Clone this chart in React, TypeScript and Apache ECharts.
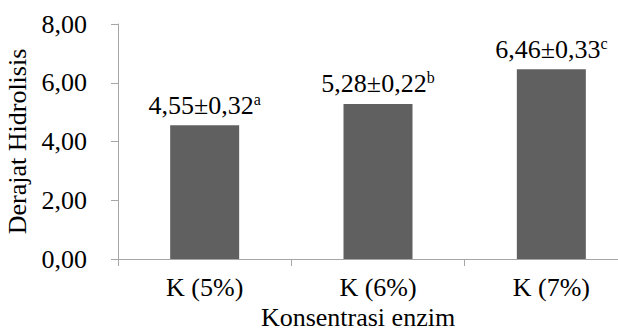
import React, { useEffect, useRef } from "react";
import * as echarts from "echarts";

const categories = ["K (5%)", "K (6%)", "K (7%)"];
const values = [4.55, 5.28, 6.46];
const labelTexts = ["4,55±0,32", "5,28±0,22", "6,46±0,33"];
const labelLetters = ["a", "b", "c"];
const yTicks = [0, 2, 4, 6, 8];

const FONT = "Liberation Serif";

export default function App() {
  const ref = useRef<HTMLDivElement>(null);
  useEffect(() => {
    if (!ref.current) return;
    const chart = echarts.init(ref.current, null, { renderer: "svg" });
    chart.setOption({
      animation: false,
      backgroundColor: "#ffffff",
      textStyle: { fontFamily: FONT },
      grid: { left: 118, right: 2, top: 24, bottom: 70, containLabel: false, outerBoundsMode: "none" },
      xAxis: {
        type: "category",
        data: categories,
        name: "Konsentrasi enzim",
        nameLocation: "middle",
        nameGap: 31,
        nameTextStyle: { fontFamily: FONT, fontSize: 26, color: "#000", padding: [0, 40, 0, 0], lineHeight: 24 },
        axisLine: { lineStyle: { color: "#a6a6a6", width: 1 } },
        axisTick: { show: true, length: 7, lineStyle: { color: "#a6a6a6" } },
        axisLabel: { fontFamily: FONT, fontSize: 26, color: "#000", margin: 15 },
      },
      yAxis: {
        type: "value",
        min: 0,
        max: yTicks[yTicks.length - 1],
        interval: 2,
        name: "Derajat Hidrolisis",
        nameLocation: "middle",
        nameGap: 82,
        nameTextStyle: { fontFamily: FONT, fontSize: 26, color: "#000" },
        axisLine: { show: true, lineStyle: { color: "#a6a6a6", width: 1 } },
        axisTick: { show: true, length: 7, lineStyle: { color: "#a6a6a6" } },
        splitLine: { show: false },
        axisLabel: {
          fontFamily: FONT,
          fontSize: 26,
          color: "#000",
          margin: 31,
          formatter: (v: number) => v.toFixed(2).replace(".", ","),
        },
      },
      series: [
        {
          type: "bar",
          data: values,
          barWidth: 69,
          itemStyle: { color: "#606060" },
          label: {
            show: true,
            position: "top",
            distance: 6,
            fontFamily: FONT,
            formatter: (p: any) => `{v|${labelTexts[p.dataIndex]}}{s|${labelLetters[p.dataIndex]}}`,
            rich: {
              v: { fontFamily: FONT, fontSize: 26, color: "#000", lineHeight: 28 },
              s: { fontFamily: FONT, fontSize: 16, color: "#000", lineHeight: 28, verticalAlign: "top" },
            },
          },
        },
      ],
    });
    return () => chart.dispose();
  }, []);
  return (
    <div style={{ position: "absolute", left: 0, top: 0, width: 618, height: 329, overflow: "hidden" }}>
      <div ref={ref} style={{ width: 640, height: 329 }} />
    </div>
  );
}
